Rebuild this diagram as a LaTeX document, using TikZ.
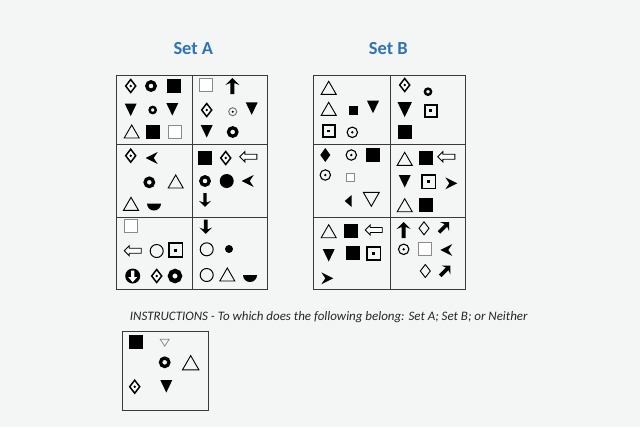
\documentclass[tikz,border=0pt]{standalone}
\usepackage{fontspec}
\setmainfont{Carlito}
\definecolor{bg}{HTML}{F4F5F5}
\definecolor{ttl}{HTML}{2E74B5}
\definecolor{gridc}{HTML}{3A3A3A}
\definecolor{sqgray}{HTML}{8A8A8A}
\tikzset{
  gridline/.style={draw=gridc,line width=1bp},
  pics/dd/.style={code={\draw[line width=1.5bp,fill=white,line join=miter] (0,-6.5)--(5,0)--(0,6.5)--(-5,0)--cycle; \fill (0,0) circle[radius=1.4];}},
  pics/ring/.style={code={\draw[line width=3.3bp] (0,0) circle[radius=4.2];}},
  pics/sring/.style={code={\draw[line width=2.4bp] (0,0) circle[radius=3.1];}},
  pics/bigring/.style={code={\draw[line width=4.4bp] (0,0) circle[radius=5];}},
  pics/fsq/.style={code={\fill (-7,-7) rectangle (7,7);}},
  pics/sfsq/.style={code={\fill (-4.5,-4.5) rectangle (4.5,4.5);}},
  pics/osq/.style={code={\draw[sqgray,line width=1bp,fill=white] (-6.5,-6.5) rectangle (6.5,6.5);}},
  pics/sosq/.style={code={\draw[sqgray,line width=1bp,fill=white] (-4,-4) rectangle (4,4);}},
  pics/fdt/.style={code={\fill (-6,-6)--(6,-6)--(0,6.5)--cycle;}},
  pics/otri/.style={code={\draw[line width=0.9bp,line join=miter] (-7.5,6)--(7.5,6)--(0,-7)--cycle;}},
  pics/odt/.style={code={\draw[line width=0.9bp] (-8,-7)--(8,-7)--(0,7)--cycle;}},
  pics/tinyodt/.style={code={\draw[sqgray,line width=0.8bp] (-4.5,-3.5)--(4.5,-3.5)--(0,3.5)--cycle;}},
  pics/uarr/.style={code={\fill (0,-8)--(7,-1)--(2,-3)--(2,8)--(-2,8)--(-2,-3)--(-7,-1)--cycle;}},
  pics/bull/.style={code={\draw[line width=1.1bp] (0,0) circle[radius=5.2]; \fill (0,0) circle[radius=1.3];}},
  pics/sbull/.style={code={\draw[sqgray!80!black,line width=0.9bp] (0,0) circle[radius=4]; \fill (0,0) circle[radius=1.1];}},
  pics/lhead/.style={code={\fill (-6,0)--(6,-6)--(2,0)--(6,6)--cycle;}},
  pics/lblock/.style={code={\draw[line width=0.9bp,fill=white] (-8.5,0)--(-3.5,-5)--(-3.5,-2.5)--(8.5,-2.5)--(8.5,2.5)--(-3.5,2.5)--(-3.5,5)--cycle;}},
  pics/fcirc/.style={code={\fill (0,0) circle[radius=7];}},
  pics/sfcirc/.style={code={\fill (0,0) circle[radius=4];}},
  pics/half/.style={code={\fill (7,0) arc[start angle=0,end angle=180,radius=7]--cycle;}},
  pics/ocirc/.style={code={\draw[line width=1bp] (0,0) circle[radius=6.5];}},
  pics/sqd/.style={code={\draw[line width=1.6bp] (-6,-6) rectangle (6,6); \fill (-1.3,-1.3) rectangle (1.3,1.3);}},
  pics/cdarr/.style={code={\fill (0,0) circle[radius=7.5]; \fill[white] (0,6.2)--(-4.5,1)--(-1.6,1)--(-1.6,-5.5)--(1.6,-5.5)--(1.6,1)--(4.5,1)--cycle;}},
  pics/fdia/.style={code={\fill (0,-7)--(5,0)--(0,7)--(-5,0)--cycle;}},
  pics/odia/.style={code={\draw[line width=0.9bp] (0,-6.5)--(5,0)--(0,6.5)--(-5,0)--cycle;}},
  pics/fltri/.style={code={\fill (3,-6)--(3,6)--(-4,0)--cycle;}},
}
\begin{document}
\begin{tikzpicture}[x=1bp,y=-1bp]
\fill[bg] (0,0) rectangle (640,427);
\useasboundingbox (0,0) rectangle (640,427);
% titles
\node[anchor=base,inner sep=0,text=ttl,font=\fontsize{18.5}{20}\selectfont\bfseries] (titleA) at (193.3,54) {Set A};
\node[anchor=base,inner sep=0,text=ttl,font=\fontsize{18.5}{20}\selectfont\bfseries] (titleB) at (388.3,54) {Set B};
% grids
\draw[gridline] (116.5,75.5) rectangle (267,289);
\draw[gridline] (192,75.5) -- (192,289);
\draw[gridline] (116.5,144.5) -- (267,144.5);
\draw[gridline] (116.5,217) -- (267,217);
\draw[gridline] (313.7,75.5) rectangle (465,289);
\draw[gridline] (390.3,75.5) -- (390.3,289);
\draw[gridline] (313.7,144.5) -- (465,144.5);
\draw[gridline] (313.7,217) -- (465,217);
% ---- Set A cell 1
\pic at (130.7,86) {dd};
\pic at (151,86) {ring};
\pic at (174.3,86) {fsq};
\pic at (130.7,109.5) {fdt};
\pic at (152.7,110) {sring};
\pic at (172.3,109) {fdt};
\pic at (131.7,132) {otri};
\pic at (153.3,132) {fsq};
\pic at (175,132) {osq};
% ---- Set A cell 2
\pic at (205.7,85) {osq};
\pic at (232.3,86) {uarr};
\pic at (206.7,110) {dd};
\pic at (232.7,111.7) {sbull};
\pic at (251.7,108.3) {fdt};
\pic at (206.7,131) {fdt};
\pic at (232.7,132) {ring};
% ---- Set A cell 3
\pic at (130.7,155.7) {dd};
\pic at (151.7,158) {lhead};
\pic at (149.3,182.3) {ring};
\pic at (175.7,182) {otri};
\pic at (131,204.3) {otri};
\pic at (154,203.5) {half};
% ---- Set A cell 4
\pic at (205,158.3) {fsq};
\pic at (225.7,158) {dd};
\pic at (248.3,156.7) {lblock};
\pic at (205,181) {ring};
\pic at (226.7,181) {fcirc};
\pic at (247.7,181) {lhead};
\pic[rotate=180,scale=0.85] at (205,200) {uarr};
% ---- Set A cell 5
\pic at (130.7,226) {osq};
\pic at (132.7,250.7) {lblock};
\pic at (156.7,251) {ocirc};
\pic[scale=1.15] at (175.7,250) {sqd};
\pic at (132.7,276) {cdarr};
\pic at (156.7,276) {dd};
\pic at (175,276) {bigring};
% ---- Set A cell 6
\pic[rotate=180,scale=0.9] at (205.7,226.7) {uarr};
\pic at (206.7,249.3) {ocirc};
\pic at (229,249) {sfcirc};
\pic at (206.7,275) {ocirc};
\pic at (227.3,275) {otri};
\pic at (250,275) {half};
% ---- Set B cell 1
\pic at (328.7,88.3) {otri};
\pic at (328.7,109.3) {otri};
\pic at (353,110) {sfsq};
\pic at (373,106.7) {fdt};
\pic at (328.7,131) {sqd};
\pic at (352.3,132.3) {bull};
% ---- Set B cell 2
\pic at (404.7,85) {dd};
\pic at (428,91.7) {sring};
\pic[scale=1.2] at (404.7,109.3) {fdt};
\pic at (430.7,110.7) {sqd};
\pic at (404.7,131.7) {fsq};
% ---- Set B cell 3
\pic at (325.3,155) {fdia};
\pic at (351.3,155) {bull};
\pic at (373,155) {fsq};
\pic at (325.3,175) {bull};
\pic at (350.3,177.7) {sosq};
\pic at (348.7,201) {fltri};
\pic at (371.3,199.3) {odt};
% ---- Set B cell 4
\pic at (404.7,159.3) {otri};
\pic at (426.3,158.3) {fsq};
\pic at (446.3,156.7) {lblock};
\pic at (404.7,181) {fdt};
\pic[scale=1.1] at (428.7,181.7) {sqd};
\pic[rotate=180] at (451.3,183.3) {lhead};
\pic at (404.7,205.7) {otri};
\pic at (426.3,205) {fsq};
% ---- Set B cell 5
\pic at (328.7,231.7) {otri};
\pic at (350.7,230.7) {fsq};
\pic at (373.7,230) {lblock};
\pic at (328.7,255) {fdt};
\pic at (353,253.3) {fsq};
\pic[scale=1.1] at (373.7,253.3) {sqd};
\pic[rotate=180] at (327.3,278.3) {lhead};
% ---- Set B cell 6
\pic at (403.7,230) {uarr};
\pic at (424,228.3) {odia};
\pic[rotate=-45,scale=0.9] at (444,227.3) {uarr};
\pic at (403.7,249.3) {bull};
\pic at (424.7,249.3) {osq};
\pic at (446.3,250) {lhead};
\pic at (425.3,271) {odia};
\pic[rotate=-45,scale=0.9] at (445.3,270.7) {uarr};
% instructions
\node[anchor=base west,inner sep=0,font=\fontsize{13}{15}\selectfont\itshape,text=black!85] (instr) at (129.7,320) {INSTRUCTIONS - To which does the following belong: Set A; Set B; or Neither};
% test box
\draw[gridline] (122.3,331.7) rectangle (208,410);
\pic at (136.3,341.7) {fsq};
\pic at (164.7,342.7) {tinyodt};
\pic at (164.7,362.3) {ring};
\pic[scale=1.1] at (190.7,363.3) {otri};
\pic at (134.7,386.7) {dd};
\pic at (166.3,386) {fdt};
\end{tikzpicture}
\end{document}
